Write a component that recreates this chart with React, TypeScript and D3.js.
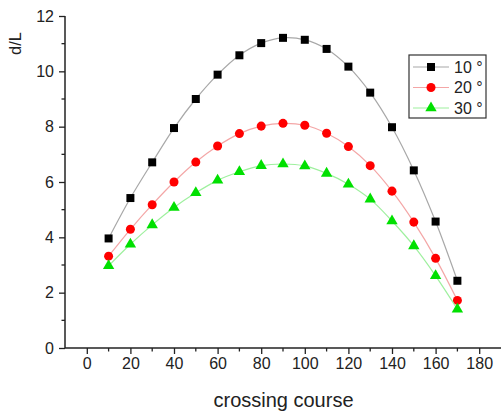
import React, { useEffect, useRef } from 'react'
import * as d3 from 'd3'

const courses = [10, 20, 30, 40, 50, 60, 70, 80, 90, 100, 110, 120, 130, 140, 150, 160, 170]
const deg10 = [3.96, 5.42, 6.71, 7.95, 9.0, 9.88, 10.58, 11.02, 11.21, 11.14, 10.81, 10.17, 9.23, 7.98, 6.42, 4.57, 2.43]
const deg20 = [3.32, 4.29, 5.18, 6.0, 6.72, 7.3, 7.75, 8.02, 8.12, 8.05, 7.76, 7.28, 6.59, 5.67, 4.55, 3.24, 1.72]
const deg30 = [2.97, 3.75, 4.45, 5.08, 5.61, 6.06, 6.37, 6.59, 6.65, 6.58, 6.31, 5.92, 5.38, 4.59, 3.69, 2.61, 1.4]
const seriesNames = ['10 °', '20 °', '30 °']
const xTicks = [0, 20, 40, 60, 80, 100, 120, 140, 160, 180]
const yTicks = [0, 2, 4, 6, 8, 10, 12]

const W = 502
const H = 413

function App() {
  const ref = useRef<SVGSVGElement>(null)

  useEffect(() => {
    drawChart(ref.current)
  }, [])

  return (
    <svg ref={ref} width={W} height={H} style={{ position: 'absolute', left: 0, top: 0, background: '#fff' }} />
  )
}

function drawChart(el: SVGSVGElement | null) {
  if (!el) return
  const svg = d3.select(el)
  svg.selectAll('*').remove()
  const font = 'Arial, "Liberation Sans", sans-serif'

  const x = d3.scaleLinear().domain([-10, 190]).range([65, 501])
  const y = d3.scaleLinear().domain([0, 12]).range([348, 16])

  const styles = [
    { line: '#a8a8a8', fill: '#000000', shape: d3.symbolSquare, size: 64 },
    { line: '#f4a6a6', fill: '#ff0000', shape: d3.symbolCircle, size: 64 },
    { line: '#9ef09e', fill: '#00e000', shape: d3.symbolTriangle, size: 56 },
  ]
  const data = [deg10, deg20, deg30]

  const line = d3.line<number>()
    .x((_, i) => x(courses[i]))
    .y(d => y(d))
    .curve(d3.curveCatmullRom)

  data.forEach((vals, k) => {
    svg.append('path')
      .attr('d', line(vals))
      .attr('fill', 'none')
      .attr('stroke', styles[k].line)
      .attr('stroke-width', 1.2)
    svg.append('g')
      .selectAll('path')
      .data(vals)
      .enter()
      .append('path')
      .attr('d', d3.symbol().type(styles[k].shape).size(styles[k].size)())
      .attr('transform', (d, i) => 'translate(' + x(courses[i]) + ',' + y(d) + ')')
      .attr('fill', styles[k].fill)
  })

  // x axis
  const xAxis = d3.axisBottom(x).tickValues(xTicks).tickSize(6).tickPadding(4).tickFormat(d3.format('d'))
  const gx = svg.append('g').attr('transform', 'translate(0,' + y(0) + ')').call(xAxis)
  gx.select('.domain').attr('d', 'M' + x(-10) + ',0H' + x(190)).attr('stroke', '#222').attr('stroke-width', 1.5)
  gx.selectAll('.tick line').attr('stroke', '#222').attr('stroke-width', 1.3)
  gx.selectAll('text').attr('font-size', 16).attr('font-family', font).attr('fill', '#222')
  gx.selectAll('.minor')
    .data(d3.range(10, 190, 20))
    .enter()
    .append('line')
    .attr('x1', d => x(d)).attr('x2', d => x(d))
    .attr('y1', 0).attr('y2', 3.5)
    .attr('stroke', '#222').attr('stroke-width', 1.3)

  // y axis
  const yAxis = d3.axisLeft(y).tickValues(yTicks).tickSize(6).tickPadding(5).tickFormat(d3.format('d'))
  const gy = svg.append('g').attr('transform', 'translate(' + x(-10) + ',0)').call(yAxis)
  gy.select('.domain').attr('d', 'M0,' + y(0) + 'V' + y(12)).attr('stroke', '#222').attr('stroke-width', 1.5)
  gy.selectAll('.tick line').attr('stroke', '#222').attr('stroke-width', 1.3)
  gy.selectAll('text').attr('font-size', 16).attr('font-family', font).attr('fill', '#222')
  gy.selectAll('.minor')
    .data(d3.range(1, 12, 2))
    .enter()
    .append('line')
    .attr('y1', d => y(d)).attr('y2', d => y(d))
    .attr('x1', 0).attr('x2', -3.5)
    .attr('stroke', '#222').attr('stroke-width', 1.3)

  // axis titles
  svg.append('text')
    .attr('x', 283.5).attr('y', 407)
    .attr('text-anchor', 'middle')
    .attr('font-size', 20).attr('font-family', font).attr('fill', '#222')
    .text('crossing course')
  svg.append('text')
    .attr('transform', 'translate(21,43.5) rotate(-90)')
    .attr('text-anchor', 'middle')
    .attr('font-size', 16.5).attr('font-family', font).attr('fill', '#222')
    .text('d/L')

  // legend
  const lg = svg.append('g').attr('transform', 'translate(409,55)')
  lg.append('rect')
    .attr('width', 77).attr('height', 63)
    .attr('fill', '#fff').attr('stroke', '#333').attr('stroke-width', 1.2)
  seriesNames.forEach((name, k) => {
    const cy = 12 + k * 20.5
    lg.append('line')
      .attr('x1', 4).attr('x2', 40).attr('y1', cy).attr('y2', cy)
      .attr('stroke', styles[k].line).attr('stroke-width', 1.2)
    lg.append('path')
      .attr('d', d3.symbol().type(styles[k].shape).size(styles[k].size)())
      .attr('transform', 'translate(22,' + cy + ')')
      .attr('fill', styles[k].fill)
    lg.append('text')
      .attr('x', 45).attr('y', cy + 5.5)
      .attr('font-size', 16).attr('font-family', font).attr('fill', '#222')
      .text(name)
  })
}

export default App
